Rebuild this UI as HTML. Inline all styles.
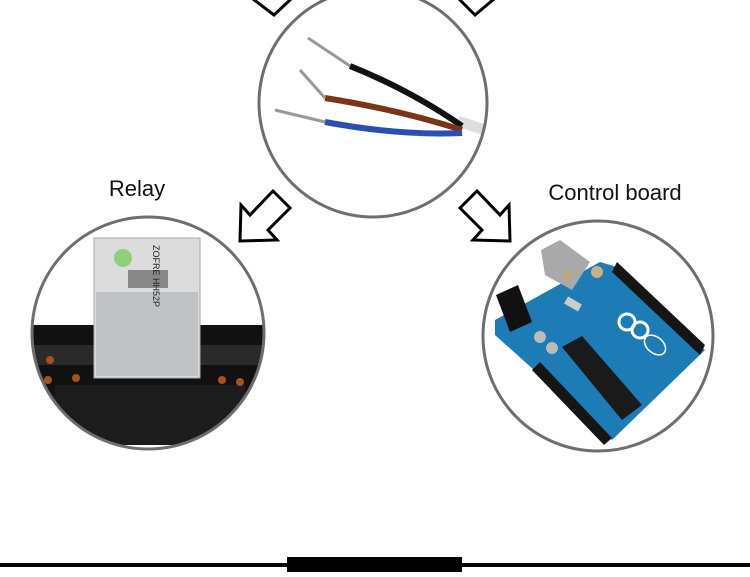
<!DOCTYPE html>
<html><head><style>
html,body{margin:0;padding:0;background:#fff;}
body{width:750px;height:572px;overflow:hidden;position:relative;font-family:"Liberation Sans",sans-serif;}
</style></head><body>
<svg width="750" height="572" viewBox="0 0 750 572" xmlns="http://www.w3.org/2000/svg">
<defs>
<clipPath id="cT"><circle cx="373" cy="103" r="114"/></clipPath>
<clipPath id="cL"><circle cx="148" cy="333" r="116"/></clipPath>
<clipPath id="cR"><circle cx="598" cy="336" r="115"/></clipPath>
</defs>
<!-- top arrows (cut off) -->
<g fill="none" stroke="#000" stroke-width="3">
<polyline points="253,-1 274,15 291,-1"/>
<polyline points="459,-1 475,15 494,-1"/>
</g>
<g fill="#fff" stroke="#000" stroke-width="3" stroke-linejoin="miter">
<polygon points="240,241 241,205 250,215 273,191 290,208 268,230 277,240"/>
<polygon points="510,241 509,205 500,215 477,191 460,208 482,230 473,240"/>
</g>
<!-- top circle: wires -->
<g clip-path="url(#cT)">
<rect x="250" y="-20" width="250" height="250" fill="#fff"/>
<path d="M455,126 L486,136 L490,126 L460,116 Z" fill="#ddd"/>
<path d="M350,66 Q410,90 462,126" stroke="#111" stroke-width="6" fill="none"/>
<path d="M325,98 Q400,110 462,130" stroke="#7a3519" stroke-width="6" fill="none"/>
<path d="M325,122 Q400,136 462,133" stroke="#2a4fb0" stroke-width="6" fill="none"/>
<path d="M308,38 L350,66 M300,70 L325,98 M275,110 L325,122" stroke="#999" stroke-width="3" fill="none"/>
</g>
<circle cx="373" cy="103" r="114" fill="none" stroke="#6e6e6e" stroke-width="3"/>
<text x="137" y="196" font-size="22" text-anchor="middle" fill="#111">Relay</text>
<text x="615" y="200" font-size="22" text-anchor="middle" fill="#111">Control board</text>
<!-- left circle: relay -->
<g clip-path="url(#cL)">
<rect x="30" y="215" width="240" height="240" fill="#fff"/>
<rect x="30" y="325" width="240" height="120" fill="#111"/>
<rect x="30" y="345" width="240" height="20" fill="#2a2a2a"/>
<rect x="55" y="385" width="190" height="60" fill="#1c1c1c"/>
<g fill="#a5521f"><circle cx="50" cy="360" r="4"/><circle cx="76" cy="378" r="4"/><circle cx="222" cy="380" r="4"/><circle cx="240" cy="382" r="4"/><circle cx="48" cy="380" r="4"/></g>
<rect x="94" y="238" width="106" height="140" fill="#dcdcdc" stroke="#aaa"/>
<rect x="96" y="292" width="102" height="84" fill="#bfc3c6"/>
<circle cx="123" cy="258" r="9" fill="#8fd07a"/>
<rect x="128" y="270" width="40" height="18" fill="#888"/>
<text x="153" y="245" font-size="9" fill="#222" transform="rotate(90 153 245)">ZOFRE HH52P</text>
</g>
<circle cx="148" cy="333" r="116" fill="none" stroke="#6e6e6e" stroke-width="3"/>
<!-- right circle: arduino -->
<g clip-path="url(#cR)">
<rect x="480" y="218" width="240" height="240" fill="#fff"/>
<polygon points="495,320 600,262 620,268 705,350 612,440 495,335" fill="#1d7bb5"/>
<polygon points="617,262 705,345 700,355 612,272" fill="#151515"/>
<polygon points="540,362 612,438 604,445 532,370" fill="#151515"/>
<polygon points="562,347 582,336 642,405 622,420" fill="#1a1a1a"/>
<polygon points="541,250 560,240 590,262 572,290 545,275" fill="#a9a9a9"/>
<polygon points="496,295 518,285 532,322 510,332" fill="#111"/>
<circle cx="568" cy="275" r="5" fill="#c2a77c"/>
<circle cx="597" cy="272" r="6" fill="#c9b08a"/>
<circle cx="540" cy="337" r="6" fill="#bbb"/>
<circle cx="552" cy="348" r="6" fill="#bbb"/>
<rect x="565" y="300" width="16" height="8" fill="#ccc" transform="rotate(30 573 304)"/>
<circle cx="627" cy="322" r="8" fill="none" stroke="#fff" stroke-width="3"/>
<circle cx="640" cy="330" r="8" fill="none" stroke="#fff" stroke-width="3"/>
<ellipse cx="655" cy="345" rx="12" ry="8" fill="none" stroke="#fff" stroke-width="1.5" transform="rotate(40 655 345)"/>
</g>
<circle cx="598" cy="336" r="115" fill="none" stroke="#6e6e6e" stroke-width="3"/>
<!-- bottom -->
<rect x="0" y="563" width="750" height="4" fill="#000"/>
<rect x="287" y="557" width="175" height="15" fill="#000"/>
</svg>
</body></html>
